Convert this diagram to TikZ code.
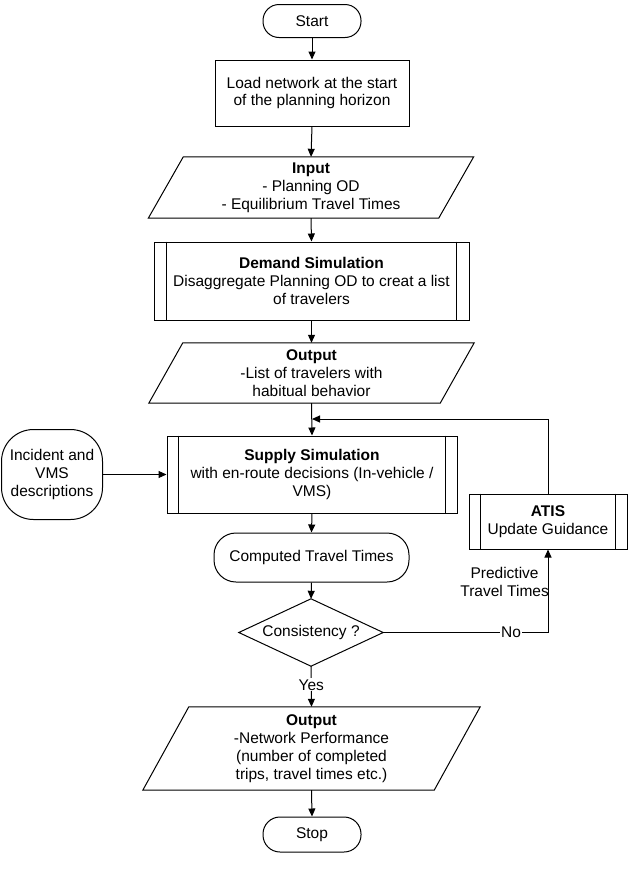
\documentclass[tikz,border=0pt]{standalone}
\usepackage{fontspec}
\setmainfont{Liberation Sans}
\usetikzlibrary{arrows.meta,calc}
\newcommand{\ioshape}[2]{\draw[ln] ([xshift=#2]#1.north west) -- (#1.north east) -- ([xshift=-#2]#1.south east) -- (#1.south west) -- cycle;}
\newcommand{\procbars}[2]{\draw[ln] ([xshift=#2]#1.north west) -- ([xshift=#2]#1.south west) ([xshift=-#2]#1.north east) -- ([xshift=-#2]#1.south east);}
\begin{document}
\begin{tikzpicture}[x=1pt,y=-1pt,
  every node/.style={font=\fontsize{15.5}{17.8}\selectfont, align=center, inner sep=0pt},
  ln/.style={line width=1pt, draw=black},
  arr/.style={ln, -{Triangle[length=8pt,width=7pt]}},
  box/.style={draw, line width=1pt, rectangle},
  term/.style={box, rounded corners=#1},
  ghost/.style={rectangle, draw=none},
  lbl/.style={fill=white, inner sep=1pt}]
\useasboundingbox (0,0) rectangle (641,873);

\node[term=16pt, minimum width=98pt, minimum height=33pt] (start) at (312,21) {Start};
\node[box, minimum width=194pt, minimum height=66pt] (load) at (312,93) {Load network at the start\\of the planning horizon};
\node[ghost, minimum width=325pt, minimum height=61pt] (input) at (311,187.5) {\textbf{Input}\\- Planning OD\\- Equilibrium Travel Times};
\ioshape{input}{35pt}
\node[box, minimum width=315pt, minimum height=78pt] (demand) at (311.5,281) {\textbf{Demand Simulation}\\Disaggregate Planning OD to creat a list\\of travelers};
\procbars{demand}{13pt}
\node[ghost, minimum width=325pt, minimum height=60pt] (out1) at (311.5,373) {\textbf{Output}\\-List of travelers with\\habitual behavior};
\ioshape{out1}{34pt}
\node[box, minimum width=290pt, minimum height=77pt] (supply) at (312,474.5) {\textbf{Supply Simulation}\\with en-route decisions (In-vehicle /\\VMS)};
\procbars{supply}{12pt}
\node[term=32pt, minimum width=101pt, minimum height=90pt] (incident) at (52,474.5) {Incident and\\VMS\\descriptions};
\node[box, minimum width=158pt, minimum height=55pt] (atis) at (548,521.5) {\textbf{ATIS}\\Update Guidance};
\procbars{atis}{12pt}
\node[term=22pt, minimum width=195pt, minimum height=49pt] (comp) at (311.5,557.5) {Computed Travel Times};
\node[ghost, minimum width=144pt, minimum height=67pt] (cons) at (311,632.5) {Consistency ?};
\draw[ln] (cons.north) -- (cons.east) -- (cons.south) -- (cons.west) -- cycle;
\node[ghost, minimum width=337pt, minimum height=83pt] (out2) at (311.5,748.5) {\textbf{Output}\\-Network Performance\\(number of completed\\trips, travel times etc.)};
\ioshape{out2}{46pt}
\node[term=17pt, minimum width=98pt, minimum height=35pt] (stop) at (312,834.5) {Stop};
\node[anchor=east] (pred) at (549,582) {Predictive\\Travel Times};
\coordinate (join) at (312,419);

\draw[arr] (start.south) -- (load.north);
\draw[arr] (load.south) -- (input.north);
\draw[arr] (input.south) -- (demand.north);
\draw[arr] (demand.south) -- (out1.north);
\draw[arr] (out1.south) -- (supply.north);
\draw[arr] (atis.north) |- (join);
\draw[arr] (incident.east) -- (supply.west);
\draw[arr] (supply.south) -- (comp.north);
\draw[arr] (comp.south) -- (cons.north);
\draw[arr] (cons.east) -| node[pos=0.388,lbl]{No} (atis.south);
\draw[arr] (cons.south) -- node[pos=0.46,lbl]{Yes} (out2.north);
\draw[arr] (out2.south) -- (stop.north);
\end{tikzpicture}
\end{document}
